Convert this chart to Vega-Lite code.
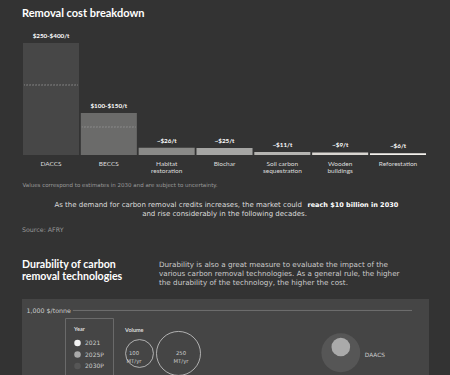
{
  "$schema": "https://vega.github.io/schema/vega-lite/v6.json",
  "background": "#333333",
  "padding": {"left": 22, "top": 8, "right": 21, "bottom": 0},
  "spacing": 12,
  "resolve": {"scale": {"color": "independent", "size": "independent"}, "legend": {"color": "independent", "size": "independent"}},
  "config": {
    "font": "Lato",
    "view": {"stroke": null},
    "title": {"color": "#ffffff"},
    "legend": {"labelFont": "Lato", "titleFont": "Lato"}
  },
  "vconcat": [
    {
      "width": 405,
      "height": 112,
      "title": {"text": "Removal cost breakdown", "anchor": "start", "fontSize": 11, "fontWeight": "bold", "color": "#ffffff", "offset": 14},
      "data": {"values": [
        {"tech": "DACCS", "low": 250, "high": 400, "label": "$250-$400/t"},
        {"tech": "BECCS", "low": 100, "high": 150, "label": "$100-$150/t"},
        {"tech": "Habitat restoration", "high": 26, "label": "~$26/t"},
        {"tech": "Biochar", "high": 25, "label": "~$25/t"},
        {"tech": "Soil carbon sequestration", "high": 11, "label": "~$11/t"},
        {"tech": "Wooden buildings", "high": 9, "label": "~$9/t"},
        {"tech": "Reforestation", "high": 6, "label": "~$6/t"}
      ]},
      "encoding": {
        "x": {
          "field": "tech", "type": "nominal", "sort": null,
          "scale": {"paddingInner": 0.031, "paddingOuter": 0.017},
          "axis": {
            "title": "Values correspond to estimates in 2030 and are subject to uncertainty.",
            "titleAnchor": "start", "titleAlign": "left", "titleFont": "DejaVu Sans", "titleFontSize": 5.5, "titleFontWeight": "normal",
            "titleColor": "#9a9a9a", "titlePadding": 8,
            "labelAngle": 0, "labelFontSize": 6.5, "labelColor": "#dddddd", "labelPadding": 5,
            "labelLineHeight": 7.5, "labelBaseline": "top",
            "domain": false, "ticks": false,
            "labelExpr": "lastindexof(datum.label, ' ') > 0 ? [slice(datum.label, 0, lastindexof(datum.label, ' ')), slice(datum.label, lastindexof(datum.label, ' ') + 1)] : datum.label"
          }
        }
      },
      "layer": [
        {
          "mark": {"type": "bar"},
          "encoding": {
            "y": {"field": "high", "type": "quantitative", "scale": {"domain": [0, 400], "nice": false}, "axis": null},
            "color": {"field": "tech", "type": "nominal", "legend": null,
              "scale": {"domain": ["DACCS", "BECCS", "Habitat restoration", "Biochar", "Soil carbon sequestration", "Wooden buildings", "Reforestation"],
                        "range": ["#474747", "#6b6b6a", "#8a8a88", "#a6a6a4", "#b5b4b1", "#d9d6d1", "#f3f1ec"]}}
          }
        },
        {
          "transform": [{"filter": "isValid(datum.low)"}],
          "mark": {"type": "tick", "size": 54, "thickness": 0.1, "filled": false, "color": "#9a9a9a", "strokeWidth": 1, "strokeDash": [1, 2]},
          "encoding": {"y": {"field": "low", "type": "quantitative"}}
        },
        {
          "mark": {"type": "text", "baseline": "bottom", "dy": -4, "fontSize": 6.3, "fontWeight": "bold", "color": "#ffffff"},
          "encoding": {"y": {"field": "high", "type": "quantitative"}, "text": {"field": "label"}}
        }
      ]
    },
    {
      "width": 405,
      "height": 18,
      "title": {"text": "Source: AFRY", "orient": "bottom", "anchor": "start", "font": "DejaVu Sans", "fontSize": 6.3, "fontWeight": "normal", "color": "#9a9a9a", "offset": 8.5},
      "data": {"values": [
        {"line": 1, "part": "lead", "text": "As the demand for carbon removal credits increases, the market could"},
        {"line": 1, "part": "key", "text": "reach $10 billion in 2030"},
        {"line": 2, "part": "rest", "text": "and rise considerably in the following decades."}
      ]},
      "encoding": {"y": {"field": "line", "type": "ordinal", "axis": null}},
      "layer": [
        {"transform": [{"filter": "datum.part == 'lead'"}],
         "mark": {"type": "text", "align": "right", "dx": 77.5, "font": "DejaVu Sans", "fontSize": 7, "color": "#dddddd"},
         "encoding": {"text": {"field": "text"}}},
        {"transform": [{"filter": "datum.part == 'key'"}],
         "mark": {"type": "text", "align": "left", "dx": 83, "font": "DejaVu Sans", "fontSize": 6.5, "fontWeight": "bold", "color": "#ffffff"},
         "encoding": {"text": {"field": "text"}}},
        {"transform": [{"filter": "datum.part == 'rest'"}],
         "mark": {"type": "text", "align": "center", "font": "DejaVu Sans", "fontSize": 7, "color": "#dddddd"},
         "encoding": {"text": {"field": "text"}}}
      ]
    },
    {
      "spacing": 0,
      "hconcat": [
        {
          "width": 137, "height": 10,
          "data": {"values": []},
          "mark": "point",
          "title": {"text": ["Durability of carbon", "removal technologies"], "orient": "bottom", "anchor": "start", "fontSize": 10.6, "fontWeight": "bold", "color": "#ffffff", "lineHeight": 12, "offset": 5}
        },
        {
          "width": 250, "height": 10,
          "data": {"values": []},
          "mark": "point",
          "title": {"text": ["Durability is also a great measure to evaluate the impact of the", "various carbon removal technologies. As a general rule, the higher", "the durability of the technology, the higher the cost."], "orient": "bottom", "anchor": "start", "font": "DejaVu Sans", "fontSize": 7.2, "fontWeight": "normal", "color": "#cccccc", "lineHeight": 9.3, "offset": 5.5}
        }
      ]
    },
    {
      "width": 407,
      "height": 240,
      "view": {"fill": "#454545", "stroke": null},
      "data": {"values": [
        {"tech": "DAACS", "year": "2030P", "durability": 79, "cost": 815, "volume": 195},
        {"tech": "DAACS", "year": "2025P", "durability": 79, "cost": 840, "volume": 45}
      ]},
      "layer": [
        {
          "mark": {"type": "rule", "color": "#707070", "strokeWidth": 0.8},
          "encoding": {
            "y": {"datum": 1000, "type": "quantitative", "scale": {"domain": [0, 1050], "nice": false},
              "axis": {"values": [1000], "labelExpr": "'1,000 $/tonne'", "domain": false, "ticks": false, "grid": false, "labelAlign": "left", "labelPadding": -4, "labelFont": "DejaVu Sans", "labelFontSize": 6.3, "labelColor": "#cccccc", "title": null, "labelBaseline": "middle"}},
            "x": {"datum": 0, "type": "quantitative", "scale": {"domain": [-15, 105], "nice": false, "zero": false}, "axis": null},
            "x2": {"datum": 100}
          }
        },
        {
          "mark": {"type": "point", "filled": true, "opacity": 1, "strokeWidth": 0},
          "encoding": {
            "x": {"field": "durability", "type": "quantitative"},
            "y": {"field": "cost", "type": "quantitative"},
            "color": {"field": "year", "type": "nominal",
              "scale": {"domain": ["2021", "2025P", "2030P"], "range": ["#f2f2f2", "#aaaaaa", "#565656"]},
              "legend": {"orient": "none", "legendX": 43, "legendY": 19, "title": "Year",
                "titleColor": "#dddddd", "titleFontSize": 5.5, "titleFontWeight": "bold", "titlePadding": 7,
                "labelColor": "#cccccc", "labelFont": "DejaVu Sans", "labelFontSize": 6, "symbolType": "circle", "symbolSize": 42, "symbolStrokeWidth": 0,
                "labelExpr": "datum.label + '\u00a0\u00a0\u00a0\u00a0\u00a0\u00a0\u00a0\u00a0\u00a0\u00a0\u00a0\u00a0\u00a0\u00a0\u00a0\u00a0\u00a0\u00a0\u00a0\u00a0\u00a0\u00a0\u00a0\u00a0\u00a0\u00a0\u00a0\u00a0\u00a0\u00a0\u00a0\u00a0\u00a0\u00a0\u00a0\u00a0\u00a0\u00a0\u00a0\u00a0\u00a0\u00a0\u00a0\u00a0\u00a0\u00a0\u00a0\u00a0\u00a0\u00a0\u00a0\u00a0\u00a0'",
                "labelLimit": 200,
                "rowPadding": 4.5, "strokeColor": "#6a6a6a", "padding": 9}},
            "size": {"field": "volume", "type": "quantitative",
              "scale": {"domain": [0, 250], "range": [0, 1936], "zero": true},
              "legend": {"orient": "none", "legendX": 103, "legendY": 29, "title": "Volume", "direction": "horizontal", "values": [100, 250],
                "titleColor": "#dddddd", "titleFontSize": 5.5, "titleFontWeight": "bold", "titlePadding": -3,
                "symbolFillColor": "transparent", "symbolStrokeColor": "#cccccc", "symbolStrokeWidth": 0.8, "symbolType": "circle",
                "labelExpr": "[datum.label, 'MT/yr']", "labelAlign": "center", "labelBaseline": "middle", "labelOffset": -20,
                "labelColor": "#cccccc", "labelFont": "DejaVu Sans", "labelFontSize": 5.3, "columnPadding": -2}}
          }
        },
        {
          "transform": [{"filter": "datum.year == '2030P'"}],
          "mark": {"type": "text", "align": "left", "baseline": "middle", "dx": 24, "dy": 2, "font": "DejaVu Sans", "fontSize": 5.8, "color": "#cccccc"},
          "encoding": {
            "x": {"field": "durability", "type": "quantitative"},
            "y": {"field": "cost", "type": "quantitative"},
            "text": {"field": "tech"}
          }
        }
      ]
    }
  ]
}
